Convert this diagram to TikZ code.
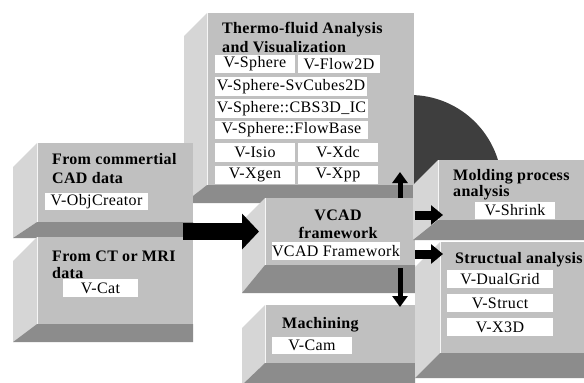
\documentclass[tikz,border=0pt]{standalone}
\usepackage{fontspec}
\setmainfont{Liberation Serif}
\newfontfamily\lblfont[LetterSpace=2.5]{Liberation Serif}
\newfontfamily\ttlfont[LetterSpace=2]{Liberation Serif}
\usetikzlibrary{arrows.meta,calc}
\definecolor{facefront}{HTML}{C0C0C0}
\definecolor{faceside}{HTML}{D6D6D6}
\definecolor{facebottom}{HTML}{8C8C8C}
\definecolor{discgray}{HTML}{3E3E3E}
\newcommand\drawcube[7]{%
  \fill[faceside] (#2,#3) -- (#2-#6,#3+#6) -- (#2-#6,#5+#7) -- (#2,#5) -- cycle;
  \fill[facebottom] (#2,#5) -- (#4,#5) -- (#4,#5+#7) -- (#2-#6,#5+#7) -- cycle;
  \node[frontface, minimum width={#4pt-#2pt}, minimum height={#5pt-#3pt}] (#1) at (#2,#3) {};
  \draw[white!85!facefront, line width=0.8pt] (#2+0.4,#3) -- (#2+0.4,#5);
}
\newcommand\lab[6]{%
  \node[lbl, minimum width={#4pt-#2pt}, minimum height={#5pt-#3pt}] (#1) at (#2,#3) {#6};
}
\begin{document}
\begin{tikzpicture}[x=1pt,y=-1pt,
  frontface/.style={fill=facefront, draw=none, inner sep=0pt, outer sep=0pt, anchor=north west},
  lbl/.style={fill=white, draw=none, inner sep=0pt, outer sep=0pt, anchor=north west, font=\lblfont\fontsize{16}{18}\selectfont},
  title/.style={inner sep=0pt, anchor=base west, font=\ttlfont\fontsize{16}{19}\selectfont\bfseries},
  ctitle/.style={title, anchor=base},
  bigarrow/.style={line width=17pt, -{Triangle[length=17pt, width=35pt]}},
  vertarrow/.style={line width=5pt, -{Triangle[length=11pt, width=15pt]}},
  horzarrow/.style={line width=9pt, -{Triangle[length=12pt, width=19pt]}}]
\clip (0,0) rectangle (584,383);
\fill[white] (0,0) rectangle (584,383);
% dark disc behind (only its upper part shows)
\begin{scope}
  \clip (380,0) rectangle (584,200);
  \fill[discgray] (410,187) circle[radius=92];
\end{scope}
% Thermo-fluid
\drawcube{thermo}{207}{13}{414}{185}{23}{18}
\node[title] (th1) at (222,33) {Thermo-fluid Analysis};
\node[title] (th2) at (222,52) {and Visualization};
\lab{sph}{215}{55}{295}{73}{V-Sphere}
\lab{flow}{298}{55}{380}{73}{V-Flow2D}
\lab{svc}{215}{77}{367}{96}{V-Sphere-SvCubes2D}
\lab{cbs}{215}{99}{368}{118}{V-Sphere::CBS3D\_IC}
\lab{fb}{215}{121}{368}{139}{V-Sphere::FlowBase}
\lab{isio}{215}{143}{295}{162}{V-Isio}
\lab{xdc}{298}{143}{378}{162}{V-Xdc}
\lab{xgen}{215}{166}{295}{184}{V-Xgen}
\lab{xpp}{298}{166}{378}{184}{V-Xpp}
% CAD
\drawcube{cad}{37}{143}{193}{222}{24}{16}
\node[title] (cad1) at (52,164) {From commertial};
\node[title] (cad2) at (52,183) {CAD data};
\lab{objc}{45}{193}{148}{210}{V-ObjCreator}
% CT
\drawcube{ct}{37}{237}{193}{324}{24}{18}
\node[title] (ct1) at (52,261) {From CT or MRI};
\node[title] (ct2) at (52,278) {data};
\lab{cat}{63}{279}{138}{297}{V-Cat}
% VCAD
\drawcube{vcad}{265}{198}{415}{265}{23}{28}
\node[ctitle] (vc1) at (338,220) {VCAD};
\node[ctitle] (vc2) at (338,238) {framework};
\lab{vf}{272}{242}{393}{260}{VCAD Framework}
% Machining
\drawcube{mach}{265}{305}{415}{363}{23}{22}
\node[title] (ma1) at (282,328) {Machining};
\lab{cam}{272}{337}{352}{354}{V-Cam}
% Molding
\drawcube{mold}{438}{160}{590}{220}{25}{20}
\node[title] (mo1) at (453,180) {Molding process};
\node[title] (mo2) at (453,196) {analysis};
\lab{shr}{475}{202}{555}{219}{V-Shrink}
% Structural
\drawcube{struct}{440}{242}{590}{353}{25}{25}
\node[title] (sa1) at (455,263) {Structual analysis};
\lab{dg}{447}{270}{553}{288}{V-DualGrid}
\lab{st}{447}{294}{553}{312}{V-Struct}
\lab{x3d}{447}{318}{553}{336}{V-X3D}
% arrows
\coordinate (bigstart) at (183,231.5);
\coordinate (moldstart) at ([yshift=-17pt]vcad.north east);
\coordinate (structstart) at ([yshift=-56pt]vcad.north east);
\draw[bigarrow] (bigstart) -- ([xshift=-6pt]vcad.west |- bigstart);
\draw[vertarrow] ([xshift=-15pt]vcad.north east) -- ([xshift=-14pt,yshift=13pt]thermo.south east);
\draw[vertarrow] ([xshift=-15pt,yshift=-3pt]vcad.south east) -- ([xshift=-15pt,yshift=-2pt]mach.north east);
\draw[horzarrow] (moldstart) -- ([xshift=5pt]mold.west |- moldstart);
\draw[horzarrow] (structstart) -- ([xshift=3pt]struct.west |- structstart);
\end{tikzpicture}
\end{document}
